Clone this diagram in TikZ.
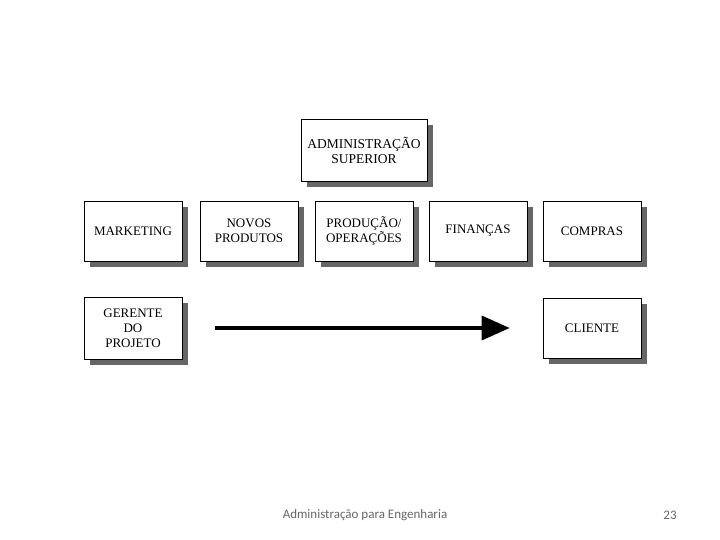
\documentclass[tikz,border=0pt]{standalone}
\usepackage{fontspec}
\setmainfont{Liberation Serif}
\newfontfamily\footfont{Carlito}
\usetikzlibrary{shadows,arrows.meta}

\begin{document}
\begin{tikzpicture}[x=1pt,y=-1pt,
		box/.style={draw,line width=.6pt,fill=white,align=center,
			minimum width=98pt,minimum height=60pt,inner sep=2pt,
			font=\fontsize{13}{15}\selectfont,
			drop shadow={shadow xshift=6pt,shadow yshift=-6pt,fill=black!60,opacity=1}},
		foot/.style={font=\footfont\fontsize{13}{15}\selectfont,text=black!60}]
		\useasboundingbox (0,0) rectangle (720,540);
		\node[box,minimum width=126pt,minimum height=62pt,font=\fontsize{13.5}{15}\selectfont] (admin) at (364,150){ADMINISTRAÇÃO\\SUPERIOR};
		\node[box] (mkt) at (133,231){MARKETING};
		\node[box] (novos) at (249,231){NOVOS\\PRODUTOS};
		\node[box] (prod) at (364,231){PRODUÇÃO/\\OPERAÇÕES};
		\node[box] (fin) at (478,231){FINANÇAS};
		\node[box] (compras) at (592,231){COMPRAS};
		\node[box,minimum height=62pt] (gerente) at (133,328){GERENTE\\DO\\PROJETO};
		\node[box] (cliente) at (592,328){CLIENTE};
		\draw[line width=3.5pt,-{Triangle[length=28pt,width=24pt]},shorten <=33pt,shorten >=33pt] (gerente.east) -- (cliente.west);
		\node[foot] (titulo) at (365,515){Administração para Engenharia};
		\node[foot] (pagina) at (670,515){23};
	\end{tikzpicture}
\end{document}
